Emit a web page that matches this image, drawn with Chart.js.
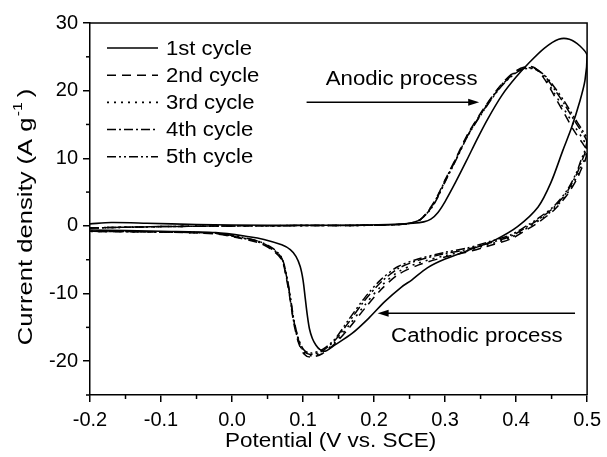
<!DOCTYPE html>
<html>
<head>
<meta charset="utf-8">
<script src="https://cdn.jsdelivr.net/npm/chart.js@4.4.1/dist/chart.umd.min.js"></script>
<style>
  html, body { margin: 0; padding: 0; background: #fff; }
  canvas { display: block; }
</style>
</head>
<body>
<canvas id="c" width="607" height="457" style="width:607px;height:457px"></canvas>
<script>
// ---------------- data ----------------
const legendLabels = ['1st cycle', '2nd cycle', '3rd cycle', '4th cycle', '5th cycle'];

const xTickValues = [-0.2, -0.1, 0.0, 0.1, 0.2, 0.3, 0.4, 0.5];
const xTickLabels = ['-0.2', '-0.1', '0.0', '0.1', '0.2', '0.3', '0.4', '0.5'];
const xMinorTicks = [-0.15, -0.05, 0.05, 0.15, 0.25, 0.35, 0.45];
const yTickValues = [-20, -10, 0, 10, 20, 30];
const yTickLabels = ['-20', '-10', '0', '10', '20', '30'];
const yMinorTicks = [-25, -15, -5, 5, 15, 25];

const xTitle = 'Potential (V vs. SCE)';
const yTitleMain = 'Current density (A g';
const yTitleSup = '-1';
const yTitleEnd = ')';

const anodicText = 'Anodic process';
const cathodicText = 'Cathodic process';

// cycle 1 (potential V, current density A/g)
const cycle1Potential = [-0.2,-0.17,-0.12,-0.05,0.05,0.15,0.22,0.255,0.27,0.28,
  0.29,0.30,0.315,0.33,0.345,0.36,0.38,0.40,0.42,0.44,
  0.46,0.475,0.49,0.5,
  0.497,0.49,0.478,0.466,0.449,0.431,
  0.402,0.37,0.346,0.3,0.275,0.253,0.239,0.215,0.192,0.169,
  0.145,0.132,0.124,0.118,0.113,0.109,0.106,0.103,0.100,0.096,0.090,
  0.082,0.070,0.045,0.024,-0.023,-0.1,-0.2];
const cycle1Current = [0.3,0.5,0.4,0.2,0.1,0.1,0.2,0.4,0.6,1.0,
  2.0,3.6,6.5,9.6,12.8,15.8,19.3,22.0,24.3,26.3,
  27.6,27.6,26.6,25.2,
  21.5,18.5,14.5,11.2,6.4,2.8,
  -0.1,-2.1,-3.1,-4.9,-6.2,-8.0,-9.0,-11.2,-13.7,-15.9,
  -17.6,-18.5,-18.3,-17.6,-16.6,-15.2,-13.2,-10.6,-8.0,-6.0,-4.5,
  -3.5,-2.8,-2.0,-1.6,-1.0,-0.8,-0.6];

// cycles 2-5 share the same potential sampling
const laterPotential = [-0.2,-0.15,-0.1,-0.05,0,0.1,0.2,0.24,0.255,0.266,
  0.28,0.29,0.30,0.309,0.318,0.332,0.356,0.379,0.398,0.412,
  0.426,0.44,0.454,0.468,0.482,0.493,0.5,
  0.497,0.491,0.486,0.472,0.454,0.431,0.416,0.393,0.36,0.33,
  0.3,0.262,0.234,0.21,0.187,0.164,0.145,0.127,0.110,0.101,
  0.094,0.087,0.082,0.077,0.070,0.057,0.038,0.01,-0.023,-0.1,-0.2];
const cycle2Current = [-0.3,-0.2,-0.1,-0.05,0,0.05,0.1,0.25,0.5,1.0,
  2.8,4.6,6.8,8.7,10.6,13.6,17.6,20.9,22.8,23.5,
  23.4,21.7,19.2,16.6,14.0,12.3,11.0,
  9.6,8.2,7.0,4.6,2.4,0.5,-0.5,-1.9,-3.0,-3.9,
  -4.6,-5.8,-7.2,-9.4,-12.2,-15.2,-17.4,-18.9,-19.4,-18.9,
  -17.4,-14.4,-11.0,-8.0,-5.0,-3.6,-2.5,-1.8,-1.2,-0.9,-0.8];
const cycle3Current = [-0.3,-0.2,-0.1,-0.05,0,0.05,0.1,0.25,0.5,1.0,
  2.7,4.5,6.7,8.6,10.5,13.5,17.5,20.8,22.7,23.4,
  23.3,21.9,19.6,17.2,14.8,13.0,11.6,
  10.0,8.6,7.3,4.8,2.6,0.7,-0.3,-1.7,-2.8,-3.7,
  -4.4,-5.5,-6.8,-8.9,-11.7,-14.8,-17.2,-18.7,-19.2,-18.7,
  -17.2,-14.2,-10.8,-7.8,-4.9,-3.5,-2.4,-1.7,-1.1,-0.9,-0.8];
const cycle4Current = [-0.3,-0.2,-0.1,-0.05,0,0.05,0.1,0.25,0.5,1.0,
  2.6,4.4,6.6,8.5,10.4,13.4,17.4,20.7,22.6,23.3,
  23.3,22.2,20.2,18.0,15.6,13.8,12.4,
  10.8,9.2,7.8,5.1,2.8,0.9,-0.1,-1.5,-2.6,-3.5,
  -4.1,-5.1,-6.3,-8.3,-11.0,-14.3,-16.9,-18.5,-19.0,-18.5,
  -17.0,-14.0,-10.6,-7.6,-4.8,-3.4,-2.3,-1.7,-1.1,-0.9,-0.8];
const cycle5Current = [-0.3,-0.2,-0.1,-0.05,0,0.05,0.1,0.25,0.5,1.0,
  2.5,4.3,6.5,8.4,10.3,13.3,17.3,20.6,22.5,23.2,
  23.2,22.3,20.5,18.4,16.0,14.2,12.8,
  11.2,9.6,8.1,5.3,3.0,1.1,0.1,-1.3,-2.4,-3.3,
  -3.9,-4.9,-6.0,-7.9,-10.6,-13.9,-16.7,-18.3,-18.8,-18.3,
  -16.8,-13.8,-10.4,-7.4,-4.7,-3.3,-2.3,-1.6,-1.1,-0.9,-0.8];

// annotation anchors (data coordinates)
const anodicArrow = { from: [0.105, 18.3], to: [0.348, 18.3] };
const anodicLabel = [0.132, 21.6];
const cathodicArrow = { from: [0.483, -12.9], to: [0.205, -12.9] };
const cathodicLabel = [0.224, -16.3];

// ---------------- styles ----------------
const FONT = '"Liberation Sans", Arial, Helvetica, sans-serif';
const FS = 20;
const dashes = [[], [9, 6], [2, 5], [9, 3, 2, 3], [9, 3, 2, 3, 2, 3]];
const widths = [1.6, 1.5, 1.6, 1.5, 1.5];

function pts(xs, ys) { return xs.map((x, i) => ({ x: x, y: ys[i] })); }
const seriesCurrents = [cycle1Current, cycle2Current, cycle3Current, cycle4Current, cycle5Current];
const seriesPotentials = [cycle1Potential, laterPotential, laterPotential, laterPotential, laterPotential];

const datasets = seriesCurrents.map((cur, i) => ({
  label: legendLabels[i],
  data: pts(seriesPotentials[i], cur),
  showLine: true,
  borderColor: '#000',
  backgroundColor: '#000',
  borderWidth: widths[i],
  borderDash: dashes[i],
  pointRadius: 0,
  tension: 0.3,
  fill: false
}));

// ---------------- custom drawing plugin ----------------
function arrow(ctx, x1, y1, x2, y2) {
  const dir = Math.sign(x2 - x1);
  ctx.beginPath();
  ctx.moveTo(x1, y1);
  ctx.lineTo(x2 - dir * 9, y2);
  ctx.lineWidth = 1.5;
  ctx.stroke();
  ctx.beginPath();
  ctx.moveTo(x2, y2);
  ctx.lineTo(x2 - dir * 11, y2 - 3.5);
  ctx.lineTo(x2 - dir * 11, y2 + 3.5);
  ctx.closePath();
  ctx.fill();
}

// text drawn with a slight horizontal stretch, as in the reference figure
function sText(ctx, text, x, y, size, sx, align) {
  ctx.save();
  ctx.font = size + 'px ' + FONT;
  ctx.translate(x, y);
  ctx.scale(sx, 1);
  ctx.textAlign = align;
  ctx.textBaseline = 'middle';
  ctx.fillText(text, 0, 0);
  ctx.restore();
}

const decor = {
  id: 'decor',
  afterDraw(chart) {
    const { ctx, chartArea: a, scales: { x, y } } = chart;
    ctx.save();
    ctx.strokeStyle = '#000';
    ctx.fillStyle = '#000';
    ctx.setLineDash([]);
    // frame top and right
    ctx.lineWidth = 1.5;
    ctx.beginPath();
    ctx.moveTo(a.left, a.top);
    ctx.lineTo(a.right, a.top);
    ctx.lineTo(a.right, a.bottom);
    ctx.stroke();
    // minor ticks
    xMinorTicks.forEach(v => {
      const px = x.getPixelForValue(v);
      ctx.beginPath(); ctx.moveTo(px, a.bottom); ctx.lineTo(px, a.bottom + 4); ctx.stroke();
    });
    yMinorTicks.forEach(v => {
      const py = y.getPixelForValue(v);
      ctx.beginPath(); ctx.moveTo(a.left, py); ctx.lineTo(a.left - 4, py); ctx.stroke();
    });
    // x title
    sText(ctx, xTitle, (a.left + a.right) / 2 - 8, a.bottom + 46, FS, 1.125, 'center');
    // y title with superscript
    ctx.save();
    const ys = 21, supS = 13, stretch = 1.22;
    const cx = 26, cy = (a.top + a.bottom) / 2 + 8;
    ctx.translate(cx, cy);
    ctx.rotate(-Math.PI / 2);
    ctx.scale(stretch, 1);
    ctx.font = ys + 'px ' + FONT;
    const w1 = ctx.measureText(yTitleMain).width;
    const w3 = ctx.measureText(yTitleEnd).width;
    ctx.font = supS + 'px ' + FONT;
    const w2 = ctx.measureText(yTitleSup).width;
    const total = w1 + 1 + w2 + 4 + w3;
    let sx = -total / 2;
    ctx.textBaseline = 'middle';
    ctx.textAlign = 'left';
    ctx.font = ys + 'px ' + FONT;
    ctx.fillText(yTitleMain, sx, 0);
    sx += w1 + 1;
    ctx.font = supS + 'px ' + FONT;
    ctx.fillText(yTitleSup, sx, -8);
    sx += w2 + 4;
    ctx.font = ys + 'px ' + FONT;
    ctx.fillText(yTitleEnd, sx, 0);
    ctx.restore();
    // legend
    chart.data.datasets.forEach((ds, i) => {
      const ly = a.top + 25 + i * 27.2;
      const lx = a.left + 17;
      ctx.save();
      ctx.lineWidth = ds.borderWidth;
      ctx.setLineDash(ds.borderDash);
      ctx.beginPath(); ctx.moveTo(lx, ly); ctx.lineTo(lx + 51, ly); ctx.stroke();
      ctx.restore();
      sText(ctx, ds.label, lx + 59, ly + 1, FS, 1.105, 'left');
    });
    // annotations
    ctx.lineWidth = 1.5;
    arrow(ctx, x.getPixelForValue(anodicArrow.from[0]), y.getPixelForValue(anodicArrow.from[1]),
               x.getPixelForValue(anodicArrow.to[0]), y.getPixelForValue(anodicArrow.to[1]));
    arrow(ctx, x.getPixelForValue(cathodicArrow.from[0]), y.getPixelForValue(cathodicArrow.from[1]),
               x.getPixelForValue(cathodicArrow.to[0]), y.getPixelForValue(cathodicArrow.to[1]));
    sText(ctx, anodicText, x.getPixelForValue(anodicLabel[0]), y.getPixelForValue(anodicLabel[1]), FS, 1.11, 'left');
    sText(ctx, cathodicText, x.getPixelForValue(cathodicLabel[0]), y.getPixelForValue(cathodicLabel[1]), FS, 1.11, 'left');
    ctx.restore();
  }
};

new Chart(document.getElementById('c'), {
  type: 'scatter',
  data: { datasets: datasets },
  plugins: [decor],
  options: {
    responsive: false,
    animation: false,
    events: [],
    layout: { padding: { left: 0, right: 17, top: 23, bottom: 0 } },
    plugins: { legend: { display: false }, tooltip: { enabled: false } },
    elements: { line: { borderCapStyle: 'butt', borderJoinStyle: 'round' } },
    scales: {
      x: {
        type: 'linear', min: -0.2, max: 0.5,
        afterBuildTicks: s => { s.ticks = xTickValues.map(v => ({ value: v })); },
        afterFit: s => { s.height = 62; },
        grid: { drawOnChartArea: false, drawTicks: true, tickLength: 7, color: '#000', lineWidth: 1.5 },
        border: { display: true, color: '#000', width: 1.5 },
        ticks: {
          color: '#000', padding: 6, autoSkip: false, maxRotation: 0,
          font: { family: FONT, size: FS },
          callback: (v, i) => xTickLabels[i]
        },
        title: { display: false }
      },
      y: {
        type: 'linear', min: -25, max: 30,
        afterBuildTicks: s => { s.ticks = yTickValues.map(v => ({ value: v })); },
        afterFit: s => { s.width = 90; },
        grid: { drawOnChartArea: false, drawTicks: true, tickLength: 7, color: '#000', lineWidth: 1.5 },
        border: { display: true, color: '#000', width: 1.5 },
        ticks: {
          color: '#000', padding: 5, autoSkip: false,
          font: { family: FONT, size: FS },
          callback: (v, i) => yTickLabels[i]
        }
      }
    }
  }
});
</script>
</body>
</html>
